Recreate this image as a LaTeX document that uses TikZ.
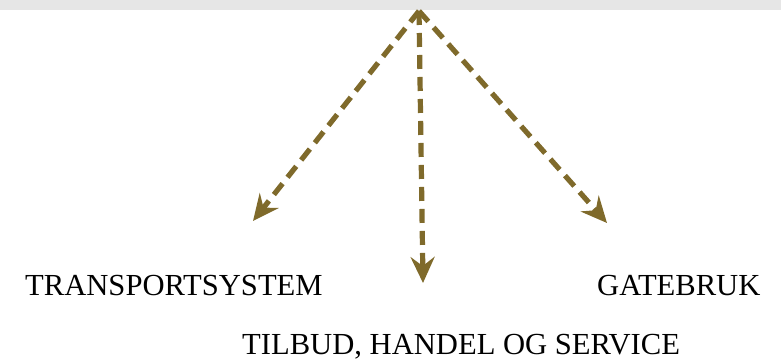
\documentclass[tikz,border=0pt]{standalone}
\usepackage{fontspec}
\setmainfont{Liberation Serif}
\usetikzlibrary{arrows.meta}
\definecolor{olivec}{HTML}{7F6A2B}
\definecolor{barc}{HTML}{E6E6E6}
\begin{document}
\begin{tikzpicture}[x=1pt,y=1pt,
  conn/.style={draw=olivec, line width=5.2pt, dash pattern=on 14pt off 8pt,
    -{Stealth[length=26pt,width=24pt,inset=9pt]}},
  lbl/.style={font=\fontsize{30.6}{36}\selectfont, inner sep=0pt, anchor=base west}]
\useasboundingbox (0,0) rectangle (781,363);
\fill[barc] (0,353) rectangle (781,363);
\coordinate (top) at (419,352);
\coordinate (l) at (253,142);
\coordinate (m) at (423,80);
\coordinate (r) at (607,140);
\draw[conn] (top) -- (l);
\draw[conn] (top) -- (m);
\draw[conn] (top) -- (r);
\node[lbl] (t1) at (25,67) {TRANSPORTSYSTEM};
\node[lbl] (t2) at (242,8) {TILBUD, HANDEL OG SERVICE};
\node[lbl] (t3) at (597,67) {GATEBRUK};
\end{tikzpicture}
\end{document}
